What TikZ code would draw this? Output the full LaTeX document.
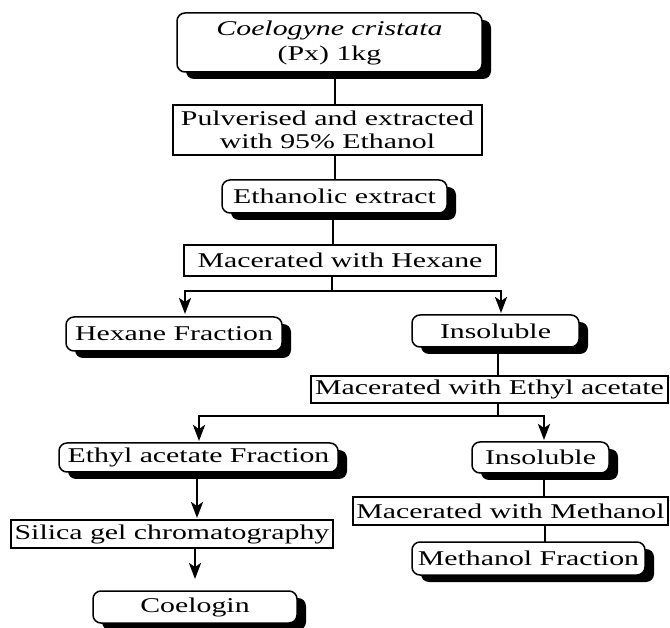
\documentclass[tikz,border=0pt]{standalone}
\usepackage{fontspec}
\setmainfont[FakeStretch=1.42]{Liberation Serif}
\usetikzlibrary{shadows,arrows.meta}
\begin{document}
\begin{tikzpicture}[x=1pt,y=-1pt,
  txt/.style={font=\fontsize{21}{23}\selectfont},
  rbox/.style={txt,draw,line width=1.5pt,rounded corners=8pt,fill=white,
    drop shadow={shadow xshift=9pt,shadow yshift=-7pt,fill=black,opacity=1},
    inner sep=0pt,align=center},
  sbox/.style={txt,draw,line width=1.4pt,fill=white,inner sep=0pt,align=center},
  conn/.style={line width=2.6pt},
  arr/.style={conn,-{Stealth[length=16pt,width=12pt,inset=4pt]}}]
\useasboundingbox (0,0) rectangle (670,628);

% columns for connectors
\coordinate (x1) at (335,0);
\coordinate (x2) at (333,0);
\coordinate (j1) at (332,291);
\coordinate (a1) at (185,0);
\coordinate (a2) at (501,0);
\coordinate (x3) at (498,0);
\coordinate (j2) at (498,416);
\coordinate (a3) at (199,0);
\coordinate (a4) at (544,0);
\coordinate (x4) at (197,0);
\coordinate (x5) at (195,0);
\coordinate (x6) at (545,0);

% connectors
\draw[conn] (x1 |- 0,72) -- (x1 |- 0,105);
\draw[conn] (x1 |- 0,155) -- (x1 |- 0,180);
\draw[conn] (x2 |- 0,213) -- (x2 |- 0,245);
\draw[conn] (j1 |- 0,276) -- (j1);
\draw[arr] (j1) -| (a1 |- 0,314);
\draw[arr] (j1) -| (a2 |- 0,313);
\draw[conn] (x3 |- 0,347) -- (x3 |- 0,376);
\draw[conn] (j2 |- 0,403) -- (j2);
\draw[arr] (j2) -| (a3 |- 0,441);
\draw[arr] (j2) -| (a4 |- 0,440);
\draw[arr] (x4 |- 0,472) -- (x4 |- 0,518);
\draw[arr] (x5 |- 0,548) -- (x5 |- 0,579);
\draw[conn] (a4 |- 0,473) -- (a4 |- 0,497);
\draw[conn] (x6 |- 0,525) -- (x6 |- 0,542);

% nodes
\node[rbox,minimum width=305pt,minimum height=59pt,font=\fontsize{21}{25}\selectfont]
  (top) at (329.5,42.5) {\textit{Coelogyne cristata}\\(Px) 1kg};
\node[sbox,minimum width=309pt,minimum height=50pt] (pulv) at (327.5,130)
  {Pulverised and extracted\\with 95\% Ethanol};
\node[rbox,minimum width=225pt,minimum height=33pt] (eth) at (334.5,196.5) {Ethanolic extract};
\node[sbox,minimum width=312pt,minimum height=31pt] (macH) at (340,260.5) {Macerated with Hexane};
\node[rbox,minimum width=216pt,minimum height=34pt] (hexF) at (174,334) {Hexane Fraction};
\node[rbox,minimum width=167pt,minimum height=32pt] (ins1) at (495.5,331) {Insoluble};
\node[sbox,minimum width=357pt,minimum height=27pt] (macEA) at (489.5,389.5) {Macerated with Ethyl acetate};
\node[rbox,minimum width=279pt,minimum height=29pt] (eaF) at (198.5,457.5) {Ethyl acetate Fraction};
\node[rbox,minimum width=137pt,minimum height=31pt] (ins2) at (540.5,457.5) {Insoluble};
\node[sbox,minimum width=322pt,minimum height=28pt] (sil) at (172,534) {Silica gel chromatography};
\node[rbox,minimum width=204pt,minimum height=32pt] (coel) at (195,607) {Coelogin};
\node[sbox,minimum width=315pt,minimum height=28pt] (macM) at (510.5,511) {Macerated with Methanol};
\node[rbox,minimum width=233pt,minimum height=33pt] (methF) at (528.5,558.5) {Methanol Fraction};
\end{tikzpicture}
\end{document}
